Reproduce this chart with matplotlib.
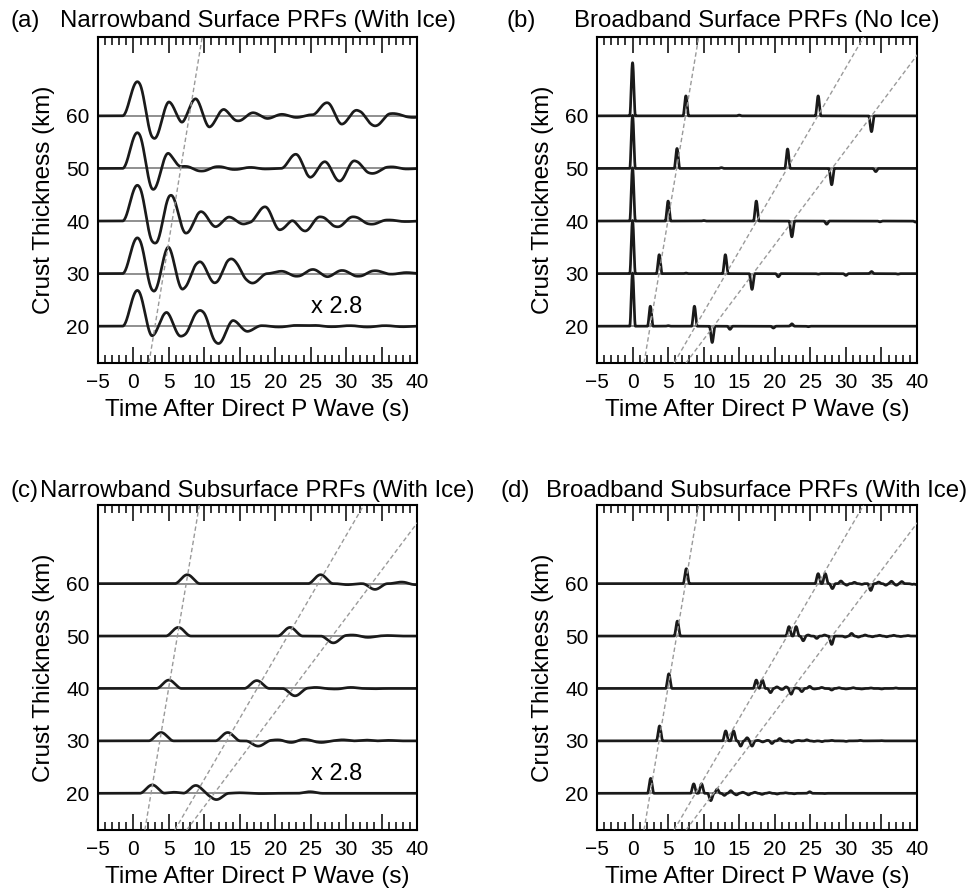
import numpy as np
import matplotlib.pyplot as plt

plt.rcParams['font.family'] = ['Liberation Sans', 'DejaVu Sans']

thickness = [20, 30, 40, 50, 60]
t = np.arange(-5, 40.001, 0.01)

# pulses: (time after P in s, amplitude in km of offset)
a_pulses = {
    60: [(0.55, 6.5), (3.0, -4.3), (5.0, 2.7), (6.9, -1.4), (8.7, 3.3), (10.8, -2.2),
         (12.5, 1.3), (14.8, -0.95), (16.9, 0.6), (18.9, -0.5), (20.9, 0.3), (23.0, -0.3),
         (25.1, 0.2), (27.3, 2.5), (29.5, -1.6), (31.3, 1.1), (34.1, -1.9), (36.6, 0.45),
         (39.5, -0.3)],
    50: [(0.55, 6.8), (2.95, -4.1), (4.7, 3.0), (7.2, 0.4), (9.6, -0.5), (12.0, 0.35),
         (14.3, -0.2), (16.5, 0.2), (18.6, -0.1), (22.9, 2.7), (25.0, -1.7), (26.9, 1.3),
         (29.1, -2.4), (31.1, 1.45), (33.7, -0.95), (36.4, 0.3), (38.6, -0.1)],
    40: [(0.55, 6.8), (3.04, -4.2), (5.3, 4.9), (7.4, -2.3), (9.6, 1.8), (11.5, -1.1),
         (13.6, 0.8), (15.3, -0.6), (18.55, 2.7), (20.7, -1.7), (22.3, 0.3), (24.2, -1.9),
         (26.3, 0.8), (28.8, -1.1), (31.0, 0.8), (33.6, -0.6), (36.0, 0.2), (38.5, -0.1)],
    30: [(0.55, 6.8), (3.04, -3.4), (4.9, 5.2), (6.8, -3.0), (9.5, 2.3), (11.3, -1.8),
         (13.8, 2.8), (16.8, -1.8), (20.9, 0.45), (23.0, -0.5), (25.4, 0.8), (27.3, -0.6),
         (29.4, 0.6), (31.7, -0.5), (34.1, 0.55), (36.5, -0.1), (38.5, 0.2)],
    20: [(0.55, 6.8), (2.8, -1.9), (4.55, 2.7), (6.7, -1.9), (9.4, 3.0), (12.0, -3.3),
         (14.1, 1.1), (16.0, -1.0), (18.0, 0.1), (20.5, -0.15), (23.0, 0.15), (25.5, 0.15),
         (28.0, -0.1), (30.5, 0.1), (33.0, -0.15), (35.5, 0.1), (38.0, -0.1)],
}

b_pulses = {
    60: [(0.0, 10.1), (7.5, 3.8), (15.0, 0.15), (26.1, 3.8), (33.6, -3.0)],
    50: [(0.0, 10.1), (6.25, 3.8), (12.5, 0.15), (21.8, 3.7), (28.0, -3.1), (34.2, -0.6)],
    40: [(0.0, 10.1), (5.0, 3.8), (10.0, 0.1), (17.4, 3.8), (22.4, -3.0), (27.3, -0.6),
         (34.8, -0.15), (39.8, -0.2)],
    30: [(0.0, 10.1), (3.75, 3.6), (7.5, 0.1), (13.05, 3.6), (16.8, -3.0), (20.5, -0.6),
         (26.1, -0.1), (30.0, -0.35), (33.6, 0.4), (37.3, -0.1)],
    20: [(0.0, 10.1), (2.5, 3.8), (5.0, 0.1), (8.7, 3.8), (11.2, -3.1), (13.7, -0.6),
         (19.8, -0.35), (22.4, 0.45), (24.7, -0.1)],
}

c_pulses = {
    60: [(7.6, 1.7), (26.4, 1.7), (30.2, -0.2), (34.07, -1.1), (37.8, 0.3), (39.9, -0.2)],
    50: [(6.33, 1.65), (22.1, 1.65), (28.2, -1.3), (30.8, 0.2), (33.1, -0.25), (35.9, 0.1)],
    40: [(5.0, 1.6), (17.4, 1.5), (22.8, -1.4), (25.7, 0.2), (28.4, -0.1), (30.7, 0.2),
         (34.0, -0.05)],
    30: [(3.9, 1.6), (13.3, 1.6), (17.6, -1.0), (20.3, 0.2), (22.3, -0.3), (24.0, 0.3),
         (26.5, -0.3), (29.5, 0.2), (32.8, 0.15), (36.0, 0.1)],
    20: [(2.66, 1.6), (5.7, 0.2), (8.8, 1.5), (11.7, -1.2), (15.0, 0.1), (18.0, -0.05),
         (24.9, 0.3)],
}

d_pulses = {
    60: [(7.56, 2.85), (26.1, 1.9), (27.1, 1.9), (28.1, -0.95), (29.3, 0.5), (30.1, -0.3),
         (31.2, 0.25), (32.2, -0.15), (33.5, -1.3), (34.6, 0.3), (35.6, -0.3), (36.4, 0.45),
         (37.1, -0.3), (37.85, 0.4), (39.3, -0.15), (39.9, -0.2)],
    50: [(6.3, 2.85), (22.0, 1.8), (23.0, 1.8), (24.0, -0.9), (24.7, 0.2), (25.9, -0.45),
         (27.0, 0.2), (28.0, -1.6), (29.9, -0.2), (30.8, 0.5), (31.75, -0.2), (32.7, 0.2),
         (33.7, -0.15), (34.7, 0.15), (35.7, -0.15), (36.7, 0.15), (37.7, -0.1), (38.7, 0.1)],
    40: [(5.1, 2.8), (17.4, 1.6), (18.25, 1.6), (19.4, -0.8), (20.3, 0.3), (21.0, -0.2),
         (21.6, 0.3), (22.3, -1.1), (23.0, 0.1), (23.8, -0.6), (24.9, 0.4), (25.6, -0.1),
         (26.6, 0.2), (28.0, -0.3), (29.0, 0.15), (30.0, -0.1), (31.0, 0.15), (32.2, -0.1),
         (33.5, 0.1), (35.0, -0.1), (37.0, 0.1)],
    30: [(3.8, 2.85), (13.1, 1.9), (14.2, 1.9), (15.2, -1.0), (16.1, 0.6), (16.8, -1.0),
         (17.6, 0.1), (18.3, -0.2), (19.0, 0.1), (19.6, -0.5), (20.7, 0.45), (21.5, -0.1),
         (22.4, -0.3), (23.3, 0.1), (24.5, 0.2), (25.5, -0.1), (26.6, -0.15), (28.0, 0.1),
         (30.0, -0.1), (32.0, 0.1), (35.0, 0.05)],
    20: [(2.55, 2.85), (8.6, 1.8), (9.7, 1.8), (11.0, -1.4), (11.9, 0.8), (12.9, -0.4),
         (13.8, 0.5), (14.6, -0.3), (15.5, 0.2), (16.3, -0.3), (17.2, 0.2), (18.2, -0.2),
         (19.2, 0.15), (20.3, -0.15), (21.5, 0.1), (22.7, -0.1), (24.9, 0.3), (27.0, -0.05)],
}

# moveout lines: time = slope * thickness + intercept
a_moveout = [(0.121, 0.62)]
bcd_moveout = [(0.124, 0.0), (0.43, 0.25), (0.555, 0.3)]

titles = ['Narrowband Surface PRFs (With Ice)', 'Broadband Surface PRFs (No Ice)',
          'Narrowband Subsurface PRFs (With Ice)', 'Broadband Subsurface PRFs (With Ice)']
letters = ['(a)', '(b)', '(c)', '(d)']
pulse_sets = [a_pulses, b_pulses, c_pulses, d_pulses]
half_widths = [2.1, 0.4, 1.8, 0.45]
moveouts = [a_moveout, bcd_moveout, bcd_moveout, bcd_moveout]
scale_note = ['x 2.8', None, 'x 2.8', None]


def trace(pulses, hw):
    y = np.zeros_like(t)
    for tc, amp in pulses:
        d = np.abs(t - tc)
        y += np.where(d < hw, amp * np.cos(np.pi * d / (2 * hw)) ** 2, 0.0)
    return y


W, H = 973, 890
fig = plt.figure(figsize=(9.73, 8.9), dpi=100)
rects = [(98, 37, 319, 326), (597, 37, 320, 326),
         (98, 505, 319, 325), (597, 505, 320, 325)]
letter_x = [10, 507, 10, 500]
title_base = [27, 27, 497, 497]

for i in range(4):
    x0, y0, w, h = rects[i]
    ax = fig.add_axes([x0 / W, 1 - (y0 + h) / H, w / W, h / H])
    ylo, yhi = 13, 75
    for H_km in thickness:
        ax.plot([-5, 40], [H_km, H_km], color='#8f8f8f', lw=1.4, zorder=1)
        ax.plot(t, H_km + trace(pulse_sets[i][H_km], half_widths[i]),
                color='#1a1a1a', lw=1.95, zorder=2)
    yy = np.array([ylo, yhi])
    for s, c in moveouts[i]:
        ax.plot(s * yy + c, yy, color='#9a9a9a', lw=1.0,
                linestyle=(0, (3.2, 2.0)), zorder=3)
    if scale_note[i]:
        ax.text(28.7, 23.6, scale_note[i], ha='center', va='center', fontsize=17)

    ax.set_xlim(-5, 40)
    ax.set_ylim(ylo, yhi)
    ax.set_xticks(range(-5, 41, 5))
    ax.set_xticks(range(-5, 41), minor=True)
    ax.set_yticks(thickness)
    ax.tick_params(axis='x', which='major', direction='in', length=11.5, width=1.1,
                   top=True, labelsize=15, pad=7)
    ax.tick_params(axis='x', which='minor', direction='in', length=6, width=1.1, top=True)
    ax.tick_params(axis='y', length=0, pad=6, labelsize=15)
    for sp in ax.spines.values():
        sp.set_linewidth(1.5)
    ax.set_xlabel('Time After Direct P Wave (s)', fontsize=17.5, labelpad=5)
    ax.set_ylabel('Crust Thickness (km)', fontsize=17.5, labelpad=8)

    fig.text((x0 + w / 2) / W, 1 - title_base[i] / H, titles[i],
             ha='center', va='baseline', fontsize=17.3)
    fig.text(letter_x[i] / W, 1 - title_base[i] / H, letters[i],
             ha='left', va='baseline', fontsize=17.3)

fig.savefig('out.png', dpi=100)
